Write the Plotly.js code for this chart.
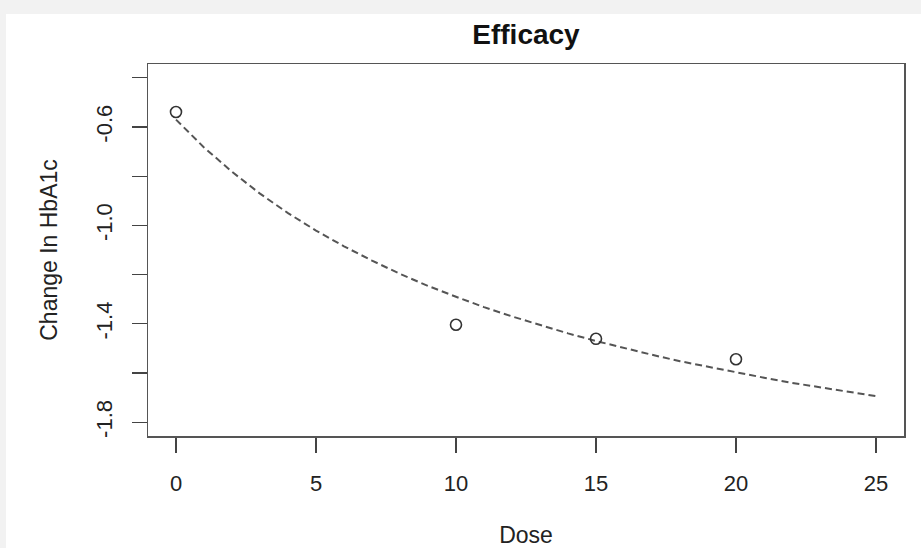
<!DOCTYPE html>
<html>
<head>
<meta charset="utf-8">
<script src="https://cdn.plot.ly/plotly-3.0.1.min.js"></script>
<style>
  html, body { margin: 0; padding: 0; background: #f2f2f2; width: 921px; height: 548px; overflow: hidden; }
  #chart { position: absolute; left: 6px; top: 14px; width: 915px; height: 534px; background: #ffffff; }
</style>
</head>
<body>
<div id="chart"></div>
<script>
// Observed data
const obsDose = [0, 10, 15, 20];
const obsChange = [-0.539, -1.404, -1.461, -1.544];

// Fitted dose-response curve
const curveDose = [0, 1, 2, 3, 4, 5, 6, 7, 8, 9, 10, 11, 12, 13, 14, 15, 16, 17, 18, 19, 20, 21, 22, 23, 24, 25];
const curveChange = [-0.570, -0.683, -0.782, -0.871, -0.950, -1.021, -1.085, -1.143, -1.197, -1.246,
                     -1.290, -1.332, -1.370, -1.406, -1.439, -1.470, -1.499, -1.526, -1.552, -1.575,
                     -1.598, -1.619, -1.640, -1.659, -1.677, -1.694];

// Axis ticks
const xTickVals = [0, 5, 10, 15, 20, 25];
const xTickText = ['0', '5', '10', '15', '20', '25'];
const yTickVals = [-1.8, -1.6, -1.4, -1.2, -1.0, -0.8, -0.6, -0.4];
const yTickText = ['-1.8', '', '-1.4', '', '-1.0', '', '-0.6', ''];

const font = 'Liberation Sans, Arial, Helvetica, sans-serif';

const traces = [
  {
    x: curveDose, y: curveChange, type: 'scatter', mode: 'lines',
    line: { color: '#555555', width: 2, dash: '7px,4px' },
    hoverinfo: 'skip', showlegend: false
  },
  {
    x: obsDose, y: obsChange, type: 'scatter', mode: 'markers',
    marker: { symbol: 'circle-open', size: 11, color: '#333333', line: { width: 1.6, color: '#333333' } },
    showlegend: false
  }
];

const layout = {
  width: 915, height: 534,
  margin: { l: 142, r: 17, t: 50, b: 112 },
  paper_bgcolor: '#ffffff', plot_bgcolor: '#ffffff',
  font: { family: font, color: '#222222', size: 22 },
  title: {
    text: '<b>Efficacy</b>', font: { family: font, size: 28, color: '#111111' },
    xref: 'paper', x: 0.5, xanchor: 'center',
    yref: 'container', y: 0.962, yanchor: 'middle'
  },
  xaxis: {
    range: [-1, 26], tickmode: 'array', tickvals: xTickVals, ticktext: xTickText,
    showgrid: false, zeroline: false,
    showline: true, mirror: true, linecolor: '#555555', linewidth: 1.5,
    ticks: 'outside', ticklen: 15, tickwidth: 1.3, tickcolor: '#444444',
    ticklabelstandoff: 12,
    tickfont: { family: font, size: 22, color: '#222222' },
    title: { text: 'Dose', font: { family: font, size: 23, color: '#222222' }, standoff: 36 },
    automargin: false, fixedrange: true
  },
  yaxis: {
    range: [-1.856, -0.344], tickmode: 'array', tickvals: yTickVals, ticktext: yTickText,
    showgrid: false, zeroline: false,
    showline: true, mirror: true, linecolor: '#555555', linewidth: 1.5,
    ticks: 'outside', ticklen: 15, tickwidth: 1.3, tickcolor: '#444444',
    tickangle: -90, ticklabelstandoff: 11,
    tickfont: { family: font, size: 22, color: '#222222' },
    title: { text: 'Change In HbA1c', font: { family: font, size: 23, color: '#222222' }, standoff: 27 },
    automargin: false, fixedrange: true
  },
  showlegend: false
};

Plotly.newPlot('chart', traces, layout, { displayModeBar: false, staticPlot: true });
</script>
</body>
</html>
